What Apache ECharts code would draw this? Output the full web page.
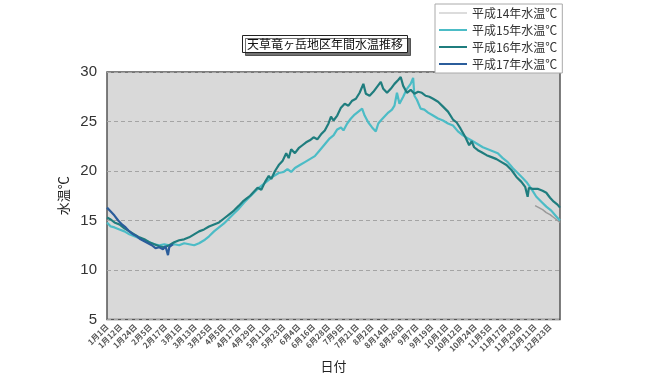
<!DOCTYPE html>
<html>
<head>
<meta charset="utf-8">
<script src="https://cdn.jsdelivr.net/npm/echarts@6/dist/echarts.min.js"></script>
<style>
  html, body { margin: 0; padding: 0; background: #fff; }
  #waterTemp { width: 650px; height: 378px; }
</style>
</head>
<body>
<div id="waterTemp"></div>
<script>
// 平成14〜17年 天草竜ヶ岳地区の水温 [日番号(1月1日=0), 水温℃]
var seriesNames = ['平成14年水温℃', '平成15年水温℃', '平成16年水温℃', '平成17年水温℃'];

// 軸に表示する日付ラベル
var tickLabels = ['1月1日', '1月12日', '1月24日', '2月5日', '2月17日', '3月1日', '3月13日', '3月25日',
    '4月5日', '4月17日', '4月29日', '5月11日', '5月23日', '6月4日', '6月16日', '6月28日', '7月9日',
    '7月21日', '8月2日', '8月14日', '8月26日', '9月7日', '9月19日', '10月1日', '10月12日', '10月24日',
    '11月5日', '11月17日', '11月29日', '12月11日', '12月23日'];

var h14 = [[344, 16.5], [347, 16.3], [350, 16.1], [353, 15.8], [356, 15.6], [359, 15.3], [362, 15.0], [364, 14.8]];

var h15 = [[0, 14.8], [3, 14.4], [6, 14.3], [10, 14.1], [14, 13.9], [18, 13.6], [22, 13.4], [26, 13.2],
    [30, 13.0], [34, 12.8], [38, 12.6], [42, 12.5], [46, 12.6], [50, 12.5], [54, 12.6], [58, 12.5],
    [62, 12.7], [66, 12.6], [70, 12.5], [74, 12.7], [78, 13.0], [82, 13.4], [86, 13.9], [90, 14.3],
    [94, 14.7], [98, 15.2], [102, 15.7], [106, 16.2], [110, 16.8], [114, 17.3], [118, 17.8], [122, 18.3],
    [126, 18.7], [130, 19.1], [134, 19.5], [138, 19.8], [142, 19.9], [145, 20.2], [148, 19.9], [151, 20.3],
    [155, 20.6], [159, 20.9], [163, 21.2], [167, 21.5], [171, 22.1], [175, 22.7], [179, 23.3], [182, 23.6],
    [185, 24.2], [188, 24.4], [190, 24.1], [193, 24.8], [196, 25.3], [199, 25.7], [202, 26.0], [205, 26.3],
    [207, 25.6], [210, 24.9], [213, 24.4], [216, 24.0], [218, 24.8], [220, 25.1], [223, 25.5], [226, 25.9],
    [229, 26.2], [231, 26.6], [233, 27.9], [235, 26.8], [238, 27.5], [241, 28.3], [244, 28.8], [246, 29.4],
    [247, 27.6], [249, 27.2], [252, 26.3], [255, 26.2], [258, 25.9], [262, 25.6], [266, 25.3], [270, 25.1],
    [274, 24.8], [278, 24.6], [282, 24.0], [286, 23.6], [290, 23.3], [294, 23.0], [298, 22.7], [302, 22.4],
    [306, 22.2], [310, 22.0], [314, 21.8], [318, 21.3], [322, 20.9], [326, 20.3], [330, 19.8], [334, 19.3],
    [337, 18.9], [341, 18.2], [345, 17.4], [349, 16.9], [353, 16.4], [357, 16.0], [361, 15.4], [364, 15.0]];

var h16 = [[0, 15.3], [3, 15.1], [6, 14.8], [10, 14.6], [14, 14.2], [18, 13.9], [22, 13.6], [26, 13.3],
    [30, 13.1], [34, 12.8], [38, 12.6], [42, 12.4], [46, 12.3], [50, 12.5], [54, 12.8], [58, 13.0],
    [62, 13.1], [66, 13.3], [70, 13.6], [74, 13.9], [78, 14.1], [82, 14.4], [86, 14.6], [90, 14.8],
    [94, 15.2], [98, 15.6], [102, 16.0], [106, 16.5], [109, 16.9], [112, 17.2], [115, 17.5], [118, 17.9],
    [121, 18.3], [124, 18.1], [127, 18.9], [130, 19.5], [132, 19.2], [135, 20.0], [138, 20.6], [141, 21.0],
    [144, 21.8], [146, 21.3], [148, 22.2], [151, 21.8], [154, 22.3], [157, 22.6], [160, 22.9], [163, 23.1],
    [166, 23.4], [169, 23.2], [172, 23.7], [175, 24.1], [178, 24.8], [180, 25.5], [182, 25.1], [185, 25.6],
    [188, 26.4], [191, 26.8], [194, 26.6], [197, 27.1], [200, 27.3], [203, 27.9], [206, 28.8], [208, 27.8],
    [211, 27.6], [214, 28.0], [217, 28.5], [220, 29.0], [222, 28.3], [225, 27.9], [228, 28.3], [231, 28.8],
    [234, 29.2], [236, 29.5], [238, 28.6], [241, 27.9], [244, 28.2], [247, 27.8], [250, 28.0], [253, 27.9],
    [256, 27.6], [259, 27.5], [262, 27.3], [266, 27.0], [270, 26.5], [274, 26.0], [278, 25.2], [281, 24.9],
    [284, 24.3], [288, 23.4], [291, 22.6], [293, 23.0], [295, 22.4], [298, 22.1], [301, 21.9], [305, 21.6],
    [309, 21.4], [313, 21.2], [317, 20.9], [321, 20.6], [325, 20.1], [329, 19.4], [333, 18.9], [336, 18.4],
    [338, 17.4], [339, 18.3], [342, 18.2], [346, 18.2], [350, 18.0], [353, 17.8], [356, 17.3], [359, 16.9],
    [362, 16.6], [364, 16.3]];

var h17 = [[0, 16.3], [3, 15.9], [6, 15.5], [9, 15.0], [12, 14.6], [15, 14.3], [18, 13.9], [21, 13.6],
    [24, 13.4], [27, 13.1], [30, 12.9], [33, 12.7], [36, 12.5], [39, 12.2], [42, 12.3], [45, 12.1],
    [47, 12.4], [49, 11.5], [50, 12.3], [53, 12.6]];

// カテゴリ(1年分の日付)
var monthDays = [31, 28, 31, 30, 31, 30, 31, 31, 30, 31, 30, 31];
var daySet = [];
for (var m = 0; m < 12; m++) {
    for (var d = 1; d <= monthDays[m]; d++) {
        daySet.push((m + 1) + '月' + d + '日');
    }
}

var dom = document.getElementById('waterTemp');
var tempChart = echarts.init(dom);

var lineColors = ['#9a9a9a', '#4cbcc6', '#1f7d7e', '#2b5d9b'];
var dataSet = [h14, h15, h16, h17];

var seriesList = [];
for (var i = 0; i < seriesNames.length; i++) {
    seriesList.push({
        name: seriesNames[i],
        type: 'line',
        data: dataSet[i],
        symbol: 'none',
        animation: false,
        lineStyle: { color: lineColors[i], width: i === 0 ? 1.5 : 2.2 },
        itemStyle: { color: lineColors[i] }
    });
}

var tempOption = {
    textStyle: { fontFamily: 'Noto Sans CJK JP' },
    title: {
        text: '天草竜ヶ岳地区年間水温推移',
        left: 242,
        top: 35,
        padding: [3, 5, 3, 5],
        backgroundColor: '#fff',
        borderColor: '#222',
        borderWidth: 1,
        shadowColor: 'rgba(0,0,0,0.55)',
        shadowOffsetX: 3,
        shadowOffsetY: 3,
        shadowBlur: 0,
        textStyle: { fontSize: 12, fontWeight: 'normal', color: '#111' }
    },
    legend: {
        orient: 'vertical',
        left: 435,
        top: 4,
        padding: [3, 5, 3, 4],
        itemGap: 5,
        itemWidth: 28,
        itemHeight: 2,
        icon: 'rect',
        backgroundColor: '#fff',
        borderColor: '#aaa',
        borderWidth: 1,
        textStyle: { fontSize: 12, color: '#333' },
        data: [
            { name: seriesNames[0], itemStyle: { color: '#dcdcdc' } },
            seriesNames[1], seriesNames[2], seriesNames[3]
        ]
    },
    grid: {
        left: 107,
        right: 90,
        top: 72,
        bottom: 55,
        show: true,
        backgroundColor: '#d9d9d9',
        borderColor: '#555',
        borderWidth: 1.5
    },
    xAxis: {
        type: 'category',
        data: daySet,
        boundaryGap: false,
        name: '日付',
        nameLocation: 'middle',
        nameGap: 38,
        nameTextStyle: { fontSize: 13, color: '#222' },
        axisLine: { show: false },
        axisTick: { show: false },
        splitLine: { show: false },
        axisLabel: {
            rotate: 45,
            fontSize: 8,
            fontWeight: 'bold',
            color: '#555',
            margin: 6,
            interval: function (index, value) {
                return tickLabels.indexOf(value) >= 0;
            }
        }
    },
    yAxis: {
        type: 'value',
        min: 5,
        max: 30,
        interval: 5,
        name: '水温℃',
        nameLocation: 'middle',
        nameRotate: 90,
        nameGap: 30,
        nameTextStyle: { fontSize: 13, color: '#222' },
        axisLine: { show: false },
        axisTick: { show: false },
        axisLabel: { fontSize: 15, color: '#333', margin: 10, fontFamily: 'Liberation Sans' },
        splitLine: { lineStyle: { color: '#a4a4a4', type: [4, 3], width: 1 } }
    },
    series: seriesList
};

tempChart.setOption(tempOption);
</script>
</body>
</html>
